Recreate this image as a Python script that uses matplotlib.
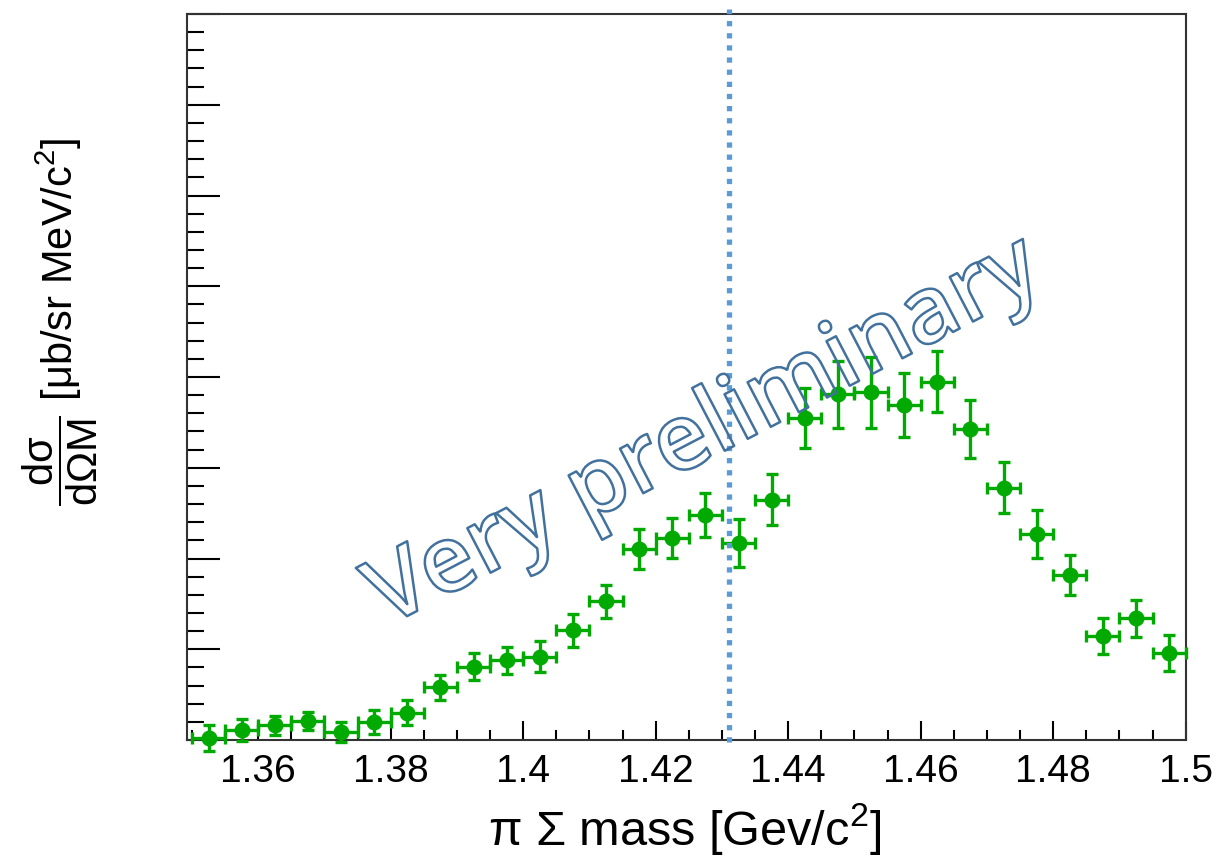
import matplotlib
matplotlib.use("Agg")
import matplotlib.pyplot as plt
import matplotlib.patheffects as pe
import numpy as np

plt.rcParams["font.family"] = ["Liberation Sans", "DejaVu Sans"]
plt.rcParams["mathtext.fontset"] = "custom"
plt.rcParams["mathtext.rm"] = "Liberation Sans"
plt.rcParams["mathtext.it"] = "Liberation Sans"
plt.rcParams["mathtext.bf"] = "Liberation Sans:bold"

# pi Sigma invariant mass bins (GeV/c^2), bin width 5 MeV
mass = 1.3525 + 0.005 * np.arange(30)
xsec = [0.02, 0.11, 0.16, 0.21, 0.09, 0.20, 0.30, 0.58, 0.81, 0.88,
        0.92, 1.21, 1.53, 2.10, 2.23, 2.48, 2.17, 2.65, 3.55, 3.81,
        3.83, 3.69, 3.95, 3.43, 2.78, 2.27, 1.82, 1.15, 1.34, 0.96]
xsec_err = [0.14, 0.12, 0.10, 0.10, 0.11, 0.13, 0.14, 0.14, 0.15, 0.15,
            0.17, 0.18, 0.18, 0.22, 0.22, 0.24, 0.26, 0.28, 0.33, 0.37,
            0.39, 0.35, 0.34, 0.32, 0.28, 0.26, 0.22, 0.20, 0.20, 0.20]
bin_half = 0.0025
kp_threshold = 1.431

fig = plt.figure(figsize=(12.16, 8.56), dpi=100)
ax = fig.add_axes([0.1535, 0.1355, 0.8216, 0.8481])

green = "#00aa00"
ax.errorbar(mass, xsec, xerr=bin_half, yerr=xsec_err, fmt="o", color=green,
            ecolor=green, elinewidth=2.4, capsize=4.6, capthick=2.4,
            markersize=10.5, clip_on=False, zorder=3)

ax.axvline(kp_threshold, ymin=-0.003, ymax=1.007, color="#5b9bd5", lw=3.8,
           linestyle=(0, (1, 1.3)), clip_on=False, zorder=4)

ax.set_xlim(1.3492, 1.5)
ax.set_ylim(0, 8.0)
ax.set_xticks([1.36, 1.38, 1.40, 1.42, 1.44, 1.46, 1.48, 1.50])
ax.set_xticklabels(["1.36", "1.38", "1.4", "1.42", "1.44", "1.46", "1.48", "1.5"])
ax.set_xticks(np.arange(1.35, 1.5001, 0.005), minor=True)
ax.set_yticks(np.arange(0, 8.01, 1))
ax.set_yticks(np.arange(0, 8.01, 0.2), minor=True)
ax.set_yticklabels([])
ax.tick_params(axis="x", which="major", direction="in", length=14, width=1.5,
               labelsize=28, pad=10)
ax.tick_params(axis="x", which="minor", direction="in", length=7, width=1.5)
ax.tick_params(axis="y", which="major", direction="in", length=24, width=1.5)
ax.tick_params(axis="y", which="minor", direction="in", length=12, width=1.5)
for s in ax.spines.values():
    s.set_linewidth(1.5)
    s.set_color("#333333")

fig.text(685 / 1216, 1 - 829 / 856, r"π Σ mass [Gev/c$^{2}$]", fontsize=35,
         ha="center", va="center")
fig.text(60 / 1216, 1 - 322 / 856,
         r"$\dfrac{\mathrm{d}\sigma}{\mathrm{d}\Omega\mathrm{M}}$ [μb/sr MeV/c$^{2}$]",
         fontsize=30, ha="center", va="center", rotation=90)

# watermark
fig.text(705 / 1216, 1 - 434 / 856, "Very preliminary", fontsize=67,
         family="Open Sans", weight="semibold", color="none", rotation=27.5,
         rotation_mode="anchor", ha="center", va="center",
         path_effects=[pe.Stroke(linewidth=1.8, foreground="#41719c")],
         zorder=5)

fig.savefig("out.png", dpi=100)
